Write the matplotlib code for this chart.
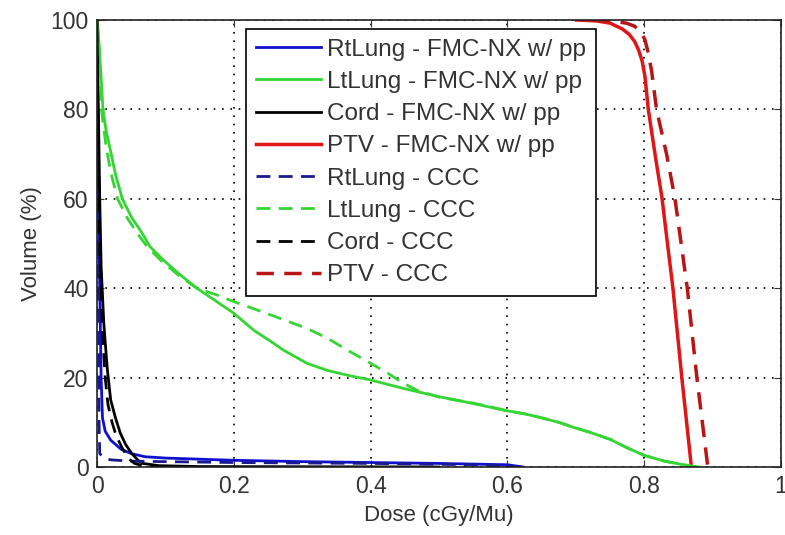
import matplotlib.pyplot as plt

# dose (cGy/Mu) vs volume (%)
rt_fmc_dose = [0, 0.002, 0.004, 0.006, 0.008, 0.012, 0.02, 0.035, 0.05, 0.07, 0.1, 0.2, 0.3, 0.4, 0.5, 0.6, 0.623]
rt_fmc_vol = [100, 60, 40, 20, 11, 8, 6, 4, 3, 2.3, 2.0, 1.5, 1.2, 1.0, 0.8, 0.5, 0]

lt_fmc_dose = [0, 0.002, 0.004, 0.006, 0.0088, 0.013, 0.0195, 0.027, 0.037, 0.05, 0.066, 0.0775, 0.097,
               0.12, 0.146, 0.175, 0.2, 0.23, 0.257, 0.272, 0.307, 0.337, 0.37, 0.399, 0.45, 0.501,
               0.55, 0.599, 0.625, 0.65, 0.675, 0.696, 0.72, 0.75, 0.775, 0.8, 0.83, 0.857, 0.88]
lt_fmc_vol = [100, 97, 92, 87, 80, 75.5, 70.9, 65.5, 60, 56, 52.3, 49.3, 46.3,
              43.2, 40, 37, 34.4, 30.5, 27.8, 26.2, 23.2, 21.6, 20.4, 19.5, 17.5, 15.7,
              14.2, 12.6, 11.9, 11, 10, 8.9, 7.8, 6.2, 4.3, 2.6, 1.3, 0.5, 0]

cord_fmc_dose = [0, 0.002, 0.004, 0.006, 0.01, 0.015, 0.02, 0.027, 0.034, 0.042, 0.051, 0.06, 0.067, 0.09, 0.15, 0.5]
cord_fmc_vol = [100, 80, 60, 45, 32, 22, 15, 11, 7.6, 5, 3, 1.5, 0.8, 0.3, 0.1, 0]

ptv_fmc_dose = [0.701, 0.73, 0.75, 0.768, 0.778, 0.786, 0.792, 0.797, 0.801, 0.806, 0.816, 0.826,
                0.834, 0.842, 0.855, 0.862, 0.869]
ptv_fmc_vol = [100, 99.8, 99.3, 98, 96.8, 95.2, 93.2, 90.8, 87.5, 80, 69.8, 60.2,
               50, 40, 20, 10, 0]

rt_ccc_dose = [0, 0.002, 0.003, 0.004, 0.01, 0.02, 0.05, 0.1, 0.2, 0.4, 0.55, 0.6, 0.62]
rt_ccc_vol = [100, 40, 10, 3, 2, 1.6, 1.3, 1.2, 1.0, 0.8, 0.5, 0.2, 0]

lt_ccc_dose = [0, 0.002, 0.004, 0.0065, 0.013, 0.02, 0.03, 0.045, 0.06, 0.075, 0.095, 0.12,
               0.146, 0.175, 0.2, 0.24, 0.272, 0.307, 0.337, 0.37, 0.399, 0.425, 0.447, 0.47, 0.501,
               0.55, 0.599, 0.625, 0.65, 0.675, 0.696, 0.72, 0.75, 0.775, 0.8, 0.83, 0.857, 0.88]
lt_ccc_vol = [100, 96, 91, 80, 72, 66, 60, 55.5, 52, 49, 46, 42.8,
              40, 38.5, 37, 34.8, 33, 31, 28.8, 25.8, 23.3, 21, 18.8, 17, 15.6,
              14.3, 12.6, 11.9, 11, 10, 8.9, 7.8, 6.2, 4.3, 2.6, 1.3, 0.5, 0]

cord_ccc_dose = [0, 0.002, 0.004, 0.008, 0.012, 0.016, 0.022, 0.028, 0.036, 0.045, 0.055, 0.07, 0.1]
cord_ccc_vol = [100, 70, 50, 30, 20, 14, 10, 7, 4.5, 2, 0.8, 0.2, 0]

ptv_ccc_dose = [0.725, 0.75, 0.774, 0.786, 0.795, 0.801, 0.806, 0.811, 0.818, 0.833, 0.845,
                0.854, 0.863, 0.877, 0.885, 0.893]
ptv_ccc_vol = [100, 99.8, 99.3, 98.6, 97.4, 95.6, 92.6, 88.4, 80, 69.8, 60,
               50, 40, 20, 10, 0]

labels = ['RtLung - FMC-NX w/ pp', 'LtLung - FMC-NX w/ pp', 'Cord - FMC-NX w/ pp', 'PTV - FMC-NX w/ pp',
          'RtLung - CCC', 'LtLung - CCC', 'Cord - CCC', 'PTV - CCC']

plt.rcParams.update({
    'font.family': ['Liberation Sans', 'DejaVu Sans'],
    'text.color': '#333333',
    'xtick.color': '#333333',
    'ytick.color': '#333333',
    'axes.labelcolor': '#333333',
})

fig = plt.figure(figsize=(7.85, 5.35), dpi=100)
ax = fig.add_axes([97 / 785, 1 - 467 / 535, 684 / 785, 447 / 535])

dash = (5, 3)
ax.plot(rt_fmc_dose, rt_fmc_vol, color='#1010d0', lw=2, label=labels[0])
ax.plot(lt_fmc_dose, lt_fmc_vol, color='#33d633', lw=2, label=labels[1])
ax.plot(cord_fmc_dose, cord_fmc_vol, color='black', lw=2, label=labels[2])
ax.plot(ptv_fmc_dose, ptv_fmc_vol, color='#e01515', lw=2.5, label=labels[3])
ax.plot(rt_ccc_dose, rt_ccc_vol, color='#1a1a90', lw=2, dashes=dash, label=labels[4])
ax.plot(lt_ccc_dose, lt_ccc_vol, color='#33d633', lw=2, dashes=dash, label=labels[5])
ax.plot(cord_ccc_dose, cord_ccc_vol, color='black', lw=2, dashes=dash, label=labels[6])
ax.plot(ptv_ccc_dose, ptv_ccc_vol, color='#b81515', lw=2.5, dashes=dash, label=labels[7])

ax.set_xlim(0, 1)
ax.set_ylim(0, 100)
ax.set_xticks([0, 0.2, 0.4, 0.6, 0.8, 1])
ax.set_xticklabels(['0', '0.2', '0.4', '0.6', '0.8', '1'])
ax.set_yticks([0, 20, 40, 60, 80, 100])
ax.tick_params(direction='in', top=True, right=True, labelsize=16.5, length=5, pad=6)
ax.grid(True, color='black', linestyle=(0, (1, 4)), linewidth=1.2)
for s in ax.spines.values():
    s.set_linewidth(1.2)
    s.set_color('#222222')

ax.set_xlabel('Dose (cGy/Mu)', fontsize=16, labelpad=5)
ax.set_ylabel('Volume (%)', fontsize=16, labelpad=6)

leg = ax.legend(loc='upper left', bbox_to_anchor=(0.218, 0.98), borderaxespad=0,
                fontsize=17.5, handlelength=2.7, handletextpad=0.22, labelspacing=0.42,
                borderpad=0.4, fancybox=False, framealpha=1, edgecolor='black')
leg.get_frame().set_linewidth(1.2)

fig.savefig('out.png', dpi=100)
